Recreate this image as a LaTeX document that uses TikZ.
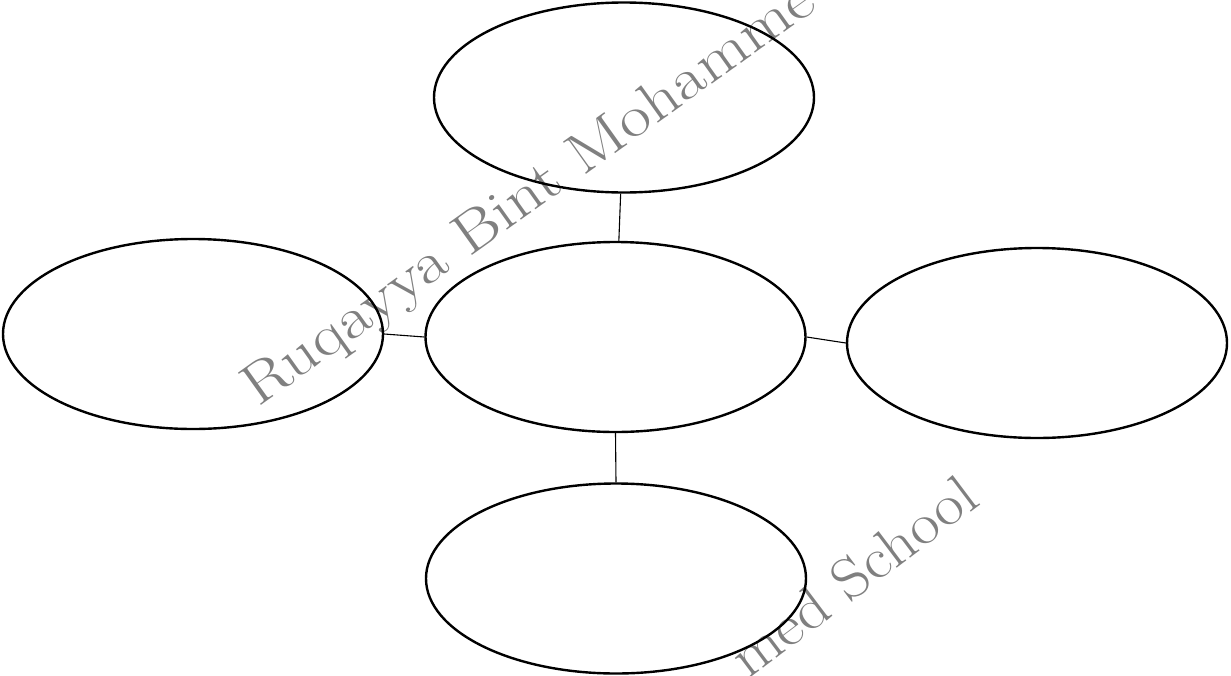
\documentclass[tikz,border=0pt]{standalone}
\usetikzlibrary{shapes.geometric}
\usepackage{pdfrender}
\tikzset{
  bubble/.style={draw=black, line width=2.4pt, ellipse, minimum width=380pt, minimum height=190pt, inner sep=0pt},
  link/.style={draw=black, line width=1.1pt},
  wmark/.style={inner sep=0pt, text=gray, font=\fontsize{58}{58}\selectfont}
}
\newcommand{\outl}[2][1.18]{\scalebox{#1}[1]{\textpdfrender{TextRenderingMode=1,LineWidth=0.9,StrokeColor=gray}{#2}}}
\begin{document}
\begin{tikzpicture}[x=1pt,y=-1pt]
\useasboundingbox (0,0) rectangle (1231,675);
\clip (0,0) rectangle (1231,675);
% watermark
\node[wmark, anchor=base west, rotate=35.5] (wm1) at (258,408) {\outl{Ruqayya Bint Mohamme}};
\node[wmark, anchor=base west, rotate=37] (wm2) at (748,680) {\outl[1.1]{med School}};
% ellipses
\node[bubble] (top) at (624,97.5) {};
\node[bubble] (left) at (193,334) {};
\node[bubble] (center) at (615.5,337) {};
\node[bubble] (right) at (1037,343) {};
\node[bubble] (bottom) at (616,578.5) {};
% connectors
\draw[link] (top.268) -- (center.88);
\draw[link] (left.east) -- (center.west);
\draw[link] (center.east) -- (right.west);
\draw[link] (center.south) -- (bottom.north);
\end{tikzpicture}
\end{document}
